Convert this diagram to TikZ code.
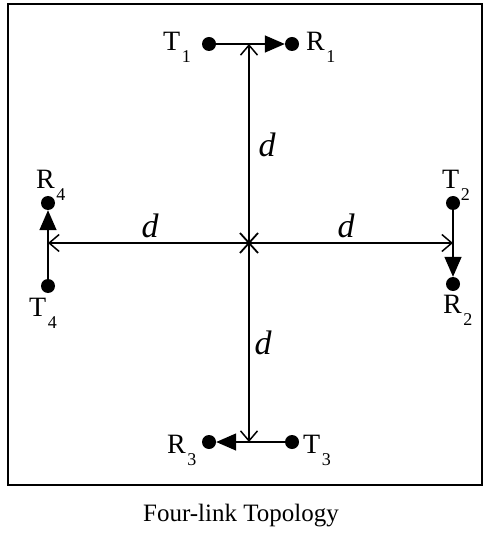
\documentclass[tikz,border=0pt]{standalone}
\usepackage{fontspec}
\setmainfont{Liberation Serif}
\usetikzlibrary{arrows.meta,calc}
\newcommand{\sublab}[2]{{\fontsize{28}{28}\selectfont #1}\kern1.5pt\raisebox{-12pt}{\fontsize{18}{18}\selectfont #2}}
\tikzset{
  dotnode/.style={circle,fill=black,inner sep=0pt,minimum size=14pt},
  longarrow/.style={line width=1.5pt,-{Straight Barb[length=10pt,width=17pt,line width=1.5pt]}},
  linkarrow/.style={line width=1.5pt,-{Triangle[length=20pt,width=17pt]}},
  lab/.style={inner sep=0pt,anchor=base west},
  dlab/.style={inner sep=0pt,anchor=base,font=\fontsize{34}{34}\selectfont\itshape},
}
\begin{document}
\begin{tikzpicture}[x=1pt,y=-1pt]
\useasboundingbox (0,0) rectangle (483,534);
\draw[line width=2pt] (8,4) rectangle (482,485);
\coordinate (C) at (249,243);
\coordinate (E1) at (249,44);
\coordinate (E2) at (453,243);
\coordinate (E3) at (249,442);
\coordinate (E4) at (48,243);
\node[dotnode] (T1) at (209,44) {};
\node[dotnode] (R1) at (292,44) {};
\node[dotnode] (T2) at (453,203) {};
\node[dotnode] (R2) at (453,284) {};
\node[dotnode] (R3) at (209,442) {};
\node[dotnode] (T3) at (292,442) {};
\node[dotnode] (R4) at (48,203) {};
\node[dotnode] (T4) at (48,286) {};
\draw[longarrow] (C) -- (E1);
\draw[longarrow] (C) -- (E2);
\draw[longarrow] (C) -- (E3);
\draw[longarrow] (C) -- (E4);
\draw[linkarrow] (T1) -- (R1);
\draw[linkarrow] (T2) -- (R2);
\draw[linkarrow] (T3) -- (R3);
\draw[linkarrow] (T4) -- (R4);
\draw[line width=1.8pt] ($(C)+(-9,-10)$) coordinate (x1) -- ($(C)+(9,10)$) coordinate (x2);
\draw[line width=1.8pt] ($(C)+(-9,10)$) coordinate (x3) -- ($(C)+(9,-10)$) coordinate (x4);
\node[lab] (lT1) at (163,51) {\sublab{T}{1}};
\node[lab] (lR1) at (306,51) {\sublab{R}{1}};
\node[lab] (lT2) at (442,189) {\sublab{T}{2}};
\node[lab] (lR2) at (443,313) {\sublab{R}{2}};
\node[lab] (lR3) at (167,453) {\sublab{R}{3}};
\node[lab] (lT3) at (303,453) {\sublab{T}{3}};
\node[lab] (lR4) at (36,189) {\sublab{R}{4}};
\node[lab] (lT4) at (29,316) {\sublab{T}{4}};
\node[dlab] (d1) at (267,157) {d};
\node[dlab] (d2) at (150,237) {d};
\node[dlab] (d3) at (346,237) {d};
\node[dlab] (d4) at (263,354) {d};
\node[inner sep=0pt,anchor=base,font=\fontsize{25}{25}\selectfont] (cap) at (241,521) {Four-link Topology};
\end{tikzpicture}
\end{document}
